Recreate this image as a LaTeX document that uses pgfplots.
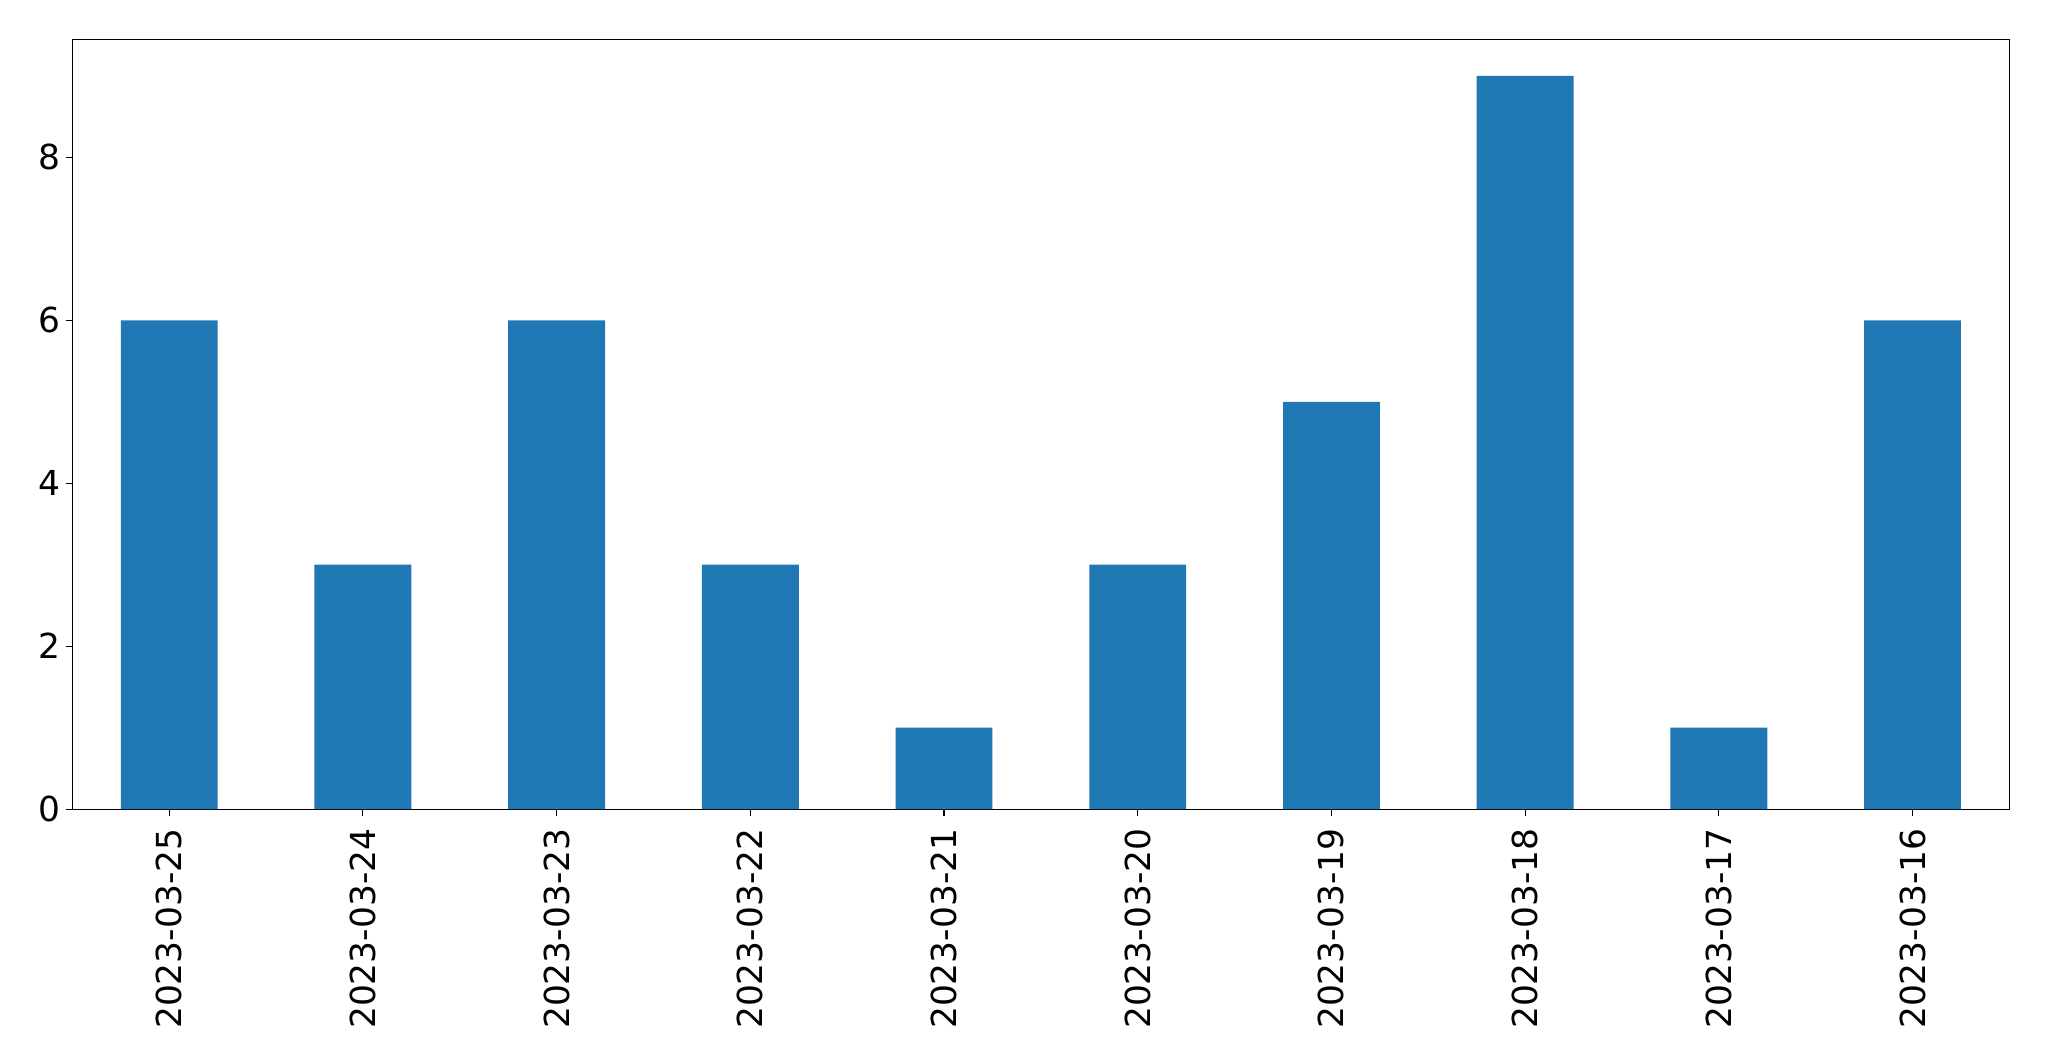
\documentclass[border=0pt]{standalone}
\usepackage{pgfplots}
\pgfplotsset{compat=1.18}
\usepackage{fontspec}
\setmainfont{DejaVu Sans}
\definecolor{mplblue}{HTML}{1F77B4}
\begin{document}
\begin{tikzpicture}
\useasboundingbox (0,0) rectangle (1475.28pt,763.92pt);
\begin{axis}[
  at={(52.1pt,181.4pt)}, anchor=south west,
  scale only axis,
  width=1394.6pt, height=554.2pt,
  xmin=-0.5, xmax=9.5,
  ymin=0, ymax=9.45,
  xtick={0,1,2,3,4,5,6,7,8,9},
  xticklabels={2023-03-25,2023-03-24,2023-03-23,2023-03-22,2023-03-21,2023-03-20,2023-03-19,2023-03-18,2023-03-17,2023-03-16},
  ytick={0,2,4,6,8},
  tick align=outside,
  tick pos=left,
  major tick length=4.9pt,
  tick style={black, line width=0.8pt},
  axis line style={black, line width=0.8pt},
  /pgf/number format/assume math mode=true,
  ticklabel style={font=\fontsize{24.8}{29}\selectfont},
  x tick label style={rotate=90, anchor=east, inner sep=0pt, xshift=-1pt, yshift=0pt},
  xticklabel shift=8pt,
  y tick label style={inner sep=0pt},
  yticklabel shift=3.5pt,
  axis background/.style={fill=white},
]
\addplot[ybar, bar width=0.5, fill=mplblue, draw=none, bar shift=0pt] coordinates {
(0,6) (1,3) (2,6) (3,3) (4,1) (5,3) (6,5) (7,9) (8,1) (9,6)
};
\end{axis}
\end{tikzpicture}
\end{document}
